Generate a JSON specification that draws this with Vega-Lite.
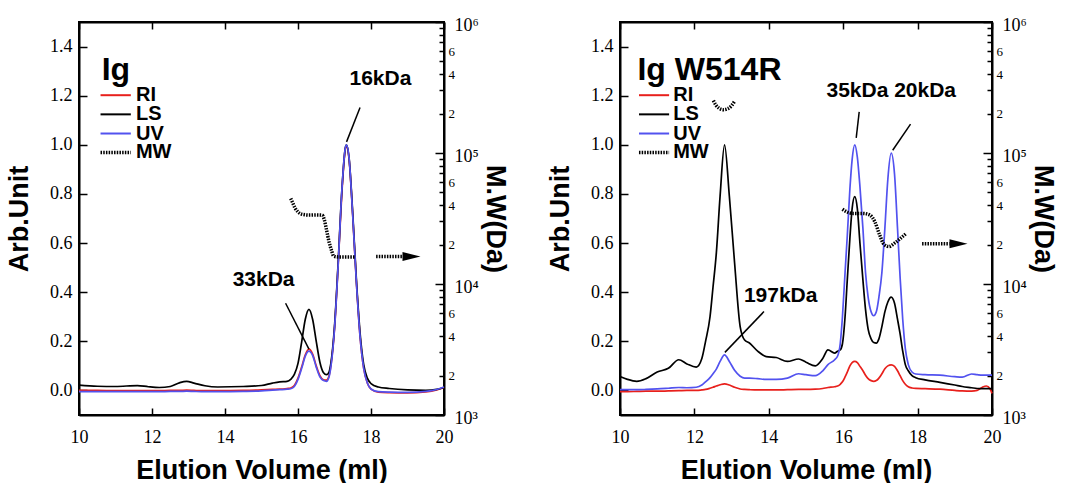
{
  "$schema": "https://vega.github.io/schema/vega-lite/v6.json",
  "background": "white",
  "padding": {"left": 4, "top": 15, "right": 2, "bottom": 5},
  "spacing": 35,
  "datasets": {
    "curvesL": [
      {"x": 10.0, "RI": 0.0, "LS": 0.022, "UV": -0.005},
      {"x": 10.5, "RI": 0.0, "LS": 0.017, "UV": -0.005},
      {"x": 11.0, "RI": -0.001, "LS": 0.016, "UV": -0.005},
      {"x": 11.6, "RI": -0.001, "LS": 0.02, "UV": -0.005},
      {"x": 11.9, "RI": -0.001, "LS": 0.015, "UV": -0.005},
      {"x": 12.2, "RI": -0.001, "LS": 0.012, "UV": -0.005},
      {"x": 12.5, "RI": 0.0, "LS": 0.016, "UV": -0.004},
      {"x": 12.75, "RI": 0.0, "LS": 0.031, "UV": -0.004},
      {"x": 12.95, "RI": 0.001, "LS": 0.037, "UV": -0.003},
      {"x": 13.15, "RI": 0.0, "LS": 0.03, "UV": -0.004},
      {"x": 13.45, "RI": -0.001, "LS": 0.019, "UV": -0.005},
      {"x": 13.8, "RI": -0.001, "LS": 0.014, "UV": -0.005},
      {"x": 14.5, "RI": 0.0, "LS": 0.016, "UV": -0.004},
      {"x": 15.0, "RI": 0.002, "LS": 0.02, "UV": -0.002},
      {"x": 15.3, "RI": 0.004, "LS": 0.03, "UV": 0.001},
      {"x": 15.5, "RI": 0.005, "LS": 0.035, "UV": 0.003},
      {"x": 15.7, "RI": 0.008, "LS": 0.037, "UV": 0.005},
      {"x": 15.8, "RI": 0.01, "LS": 0.045, "UV": 0.007},
      {"x": 15.9, "RI": 0.02, "LS": 0.065, "UV": 0.016},
      {"x": 16.0, "RI": 0.05, "LS": 0.11, "UV": 0.045},
      {"x": 16.1, "RI": 0.095, "LS": 0.197, "UV": 0.09},
      {"x": 16.2, "RI": 0.145, "LS": 0.29, "UV": 0.14},
      {"x": 16.3, "RI": 0.168, "LS": 0.33, "UV": 0.16},
      {"x": 16.4, "RI": 0.148, "LS": 0.29, "UV": 0.143},
      {"x": 16.5, "RI": 0.1, "LS": 0.2, "UV": 0.095},
      {"x": 16.6, "RI": 0.06, "LS": 0.115, "UV": 0.055},
      {"x": 16.7, "RI": 0.043, "LS": 0.072, "UV": 0.04},
      {"x": 16.78, "RI": 0.042, "LS": 0.064, "UV": 0.037},
      {"x": 16.85, "RI": 0.06, "LS": 0.075, "UV": 0.055},
      {"x": 16.9, "RI": 0.1, "LS": 0.11, "UV": 0.095},
      {"x": 17.0, "RI": 0.25, "LS": 0.26, "UV": 0.25},
      {"x": 17.1, "RI": 0.51, "LS": 0.52, "UV": 0.51},
      {"x": 17.2, "RI": 0.8, "LS": 0.81, "UV": 0.81},
      {"x": 17.3, "RI": 0.985, "LS": 0.99, "UV": 0.99},
      {"x": 17.33, "RI": 0.995, "LS": 1.0, "UV": 1.0},
      {"x": 17.4, "RI": 0.94, "LS": 0.945, "UV": 0.945},
      {"x": 17.5, "RI": 0.71, "LS": 0.72, "UV": 0.71},
      {"x": 17.6, "RI": 0.44, "LS": 0.45, "UV": 0.44},
      {"x": 17.7, "RI": 0.22, "LS": 0.235, "UV": 0.22},
      {"x": 17.8, "RI": 0.09, "LS": 0.105, "UV": 0.09},
      {"x": 17.9, "RI": 0.03, "LS": 0.05, "UV": 0.03},
      {"x": 18.0, "RI": 0.005, "LS": 0.028, "UV": 0.006},
      {"x": 18.2, "RI": -0.007, "LS": 0.014, "UV": -0.005},
      {"x": 18.5, "RI": -0.009, "LS": 0.008, "UV": -0.007},
      {"x": 19.0, "RI": -0.01, "LS": 0.002, "UV": -0.008},
      {"x": 19.5, "RI": -0.006, "LS": 0.0, "UV": -0.004},
      {"x": 19.8, "RI": 0.002, "LS": 0.004, "UV": 0.004},
      {"x": 20.0, "RI": 0.012, "LS": 0.012, "UV": 0.014}
    ],
    "curvesR": [
      {"x": 10.0, "RI": -0.005, "LS": 0.057, "UV": 0.003},
      {"x": 10.2, "RI": -0.005, "LS": 0.045, "UV": 0.003},
      {"x": 10.45, "RI": -0.004, "LS": 0.037, "UV": 0.003},
      {"x": 10.7, "RI": -0.003, "LS": 0.048, "UV": 0.004},
      {"x": 11.0, "RI": -0.003, "LS": 0.075, "UV": 0.006},
      {"x": 11.3, "RI": -0.002, "LS": 0.09, "UV": 0.009},
      {"x": 11.58, "RI": -0.001, "LS": 0.125, "UV": 0.012},
      {"x": 11.8, "RI": 0.0, "LS": 0.108, "UV": 0.011},
      {"x": 12.05, "RI": 0.0, "LS": 0.095, "UV": 0.013},
      {"x": 12.2, "RI": 0.002, "LS": 0.13, "UV": 0.022},
      {"x": 12.3, "RI": 0.004, "LS": 0.2, "UV": 0.035},
      {"x": 12.42, "RI": 0.009, "LS": 0.3, "UV": 0.052},
      {"x": 12.5, "RI": 0.013, "LS": 0.42, "UV": 0.068},
      {"x": 12.59, "RI": 0.018, "LS": 0.56, "UV": 0.087},
      {"x": 12.69, "RI": 0.023, "LS": 0.79, "UV": 0.118},
      {"x": 12.81, "RI": 0.027, "LS": 1.0, "UV": 0.145},
      {"x": 12.94, "RI": 0.022, "LS": 0.79, "UV": 0.118},
      {"x": 13.08, "RI": 0.013, "LS": 0.52, "UV": 0.082},
      {"x": 13.23, "RI": 0.006, "LS": 0.26, "UV": 0.058},
      {"x": 13.35, "RI": 0.004, "LS": 0.205, "UV": 0.05},
      {"x": 13.48, "RI": 0.003, "LS": 0.193, "UV": 0.05},
      {"x": 13.7, "RI": 0.002, "LS": 0.16, "UV": 0.048},
      {"x": 13.93, "RI": 0.002, "LS": 0.138, "UV": 0.045},
      {"x": 14.2, "RI": 0.002, "LS": 0.134, "UV": 0.045},
      {"x": 14.5, "RI": 0.003, "LS": 0.118, "UV": 0.05},
      {"x": 14.8, "RI": 0.004, "LS": 0.128, "UV": 0.068},
      {"x": 15.0, "RI": 0.004, "LS": 0.115, "UV": 0.064},
      {"x": 15.25, "RI": 0.005, "LS": 0.1, "UV": 0.06},
      {"x": 15.45, "RI": 0.008, "LS": 0.13, "UV": 0.08},
      {"x": 15.59, "RI": 0.012, "LS": 0.165, "UV": 0.105},
      {"x": 15.77, "RI": 0.015, "LS": 0.152, "UV": 0.125},
      {"x": 15.85, "RI": 0.018, "LS": 0.16, "UV": 0.14},
      {"x": 15.92, "RI": 0.025, "LS": 0.165, "UV": 0.19},
      {"x": 15.98, "RI": 0.035, "LS": 0.19, "UV": 0.3},
      {"x": 16.05, "RI": 0.055, "LS": 0.3, "UV": 0.48},
      {"x": 16.11, "RI": 0.075, "LS": 0.45, "UV": 0.63},
      {"x": 16.18, "RI": 0.1, "LS": 0.62, "UV": 0.82},
      {"x": 16.24, "RI": 0.113, "LS": 0.74, "UV": 0.94},
      {"x": 16.31, "RI": 0.118, "LS": 0.789, "UV": 1.0},
      {"x": 16.38, "RI": 0.113, "LS": 0.74, "UV": 0.95},
      {"x": 16.45, "RI": 0.098, "LS": 0.6, "UV": 0.83},
      {"x": 16.53, "RI": 0.08, "LS": 0.45, "UV": 0.66},
      {"x": 16.6, "RI": 0.062, "LS": 0.33, "UV": 0.48},
      {"x": 16.67, "RI": 0.048, "LS": 0.25, "UV": 0.38},
      {"x": 16.75, "RI": 0.04, "LS": 0.21, "UV": 0.32},
      {"x": 16.82, "RI": 0.037, "LS": 0.195, "UV": 0.304},
      {"x": 16.89, "RI": 0.04, "LS": 0.193, "UV": 0.32},
      {"x": 16.96, "RI": 0.05, "LS": 0.21, "UV": 0.38},
      {"x": 17.04, "RI": 0.068, "LS": 0.26, "UV": 0.48},
      {"x": 17.12, "RI": 0.088, "LS": 0.32, "UV": 0.66},
      {"x": 17.2, "RI": 0.1, "LS": 0.36, "UV": 0.86},
      {"x": 17.29, "RI": 0.104, "LS": 0.38, "UV": 0.966},
      {"x": 17.38, "RI": 0.098, "LS": 0.355, "UV": 0.88},
      {"x": 17.46, "RI": 0.08, "LS": 0.29, "UV": 0.66},
      {"x": 17.53, "RI": 0.06, "LS": 0.23, "UV": 0.46},
      {"x": 17.6, "RI": 0.04, "LS": 0.16, "UV": 0.29},
      {"x": 17.67, "RI": 0.025, "LS": 0.105, "UV": 0.17},
      {"x": 17.75, "RI": 0.015, "LS": 0.08, "UV": 0.105},
      {"x": 17.85, "RI": 0.01, "LS": 0.06, "UV": 0.075},
      {"x": 17.95, "RI": 0.008, "LS": 0.052, "UV": 0.067},
      {"x": 18.2, "RI": 0.007, "LS": 0.043, "UV": 0.064},
      {"x": 18.6, "RI": 0.005, "LS": 0.033, "UV": 0.062},
      {"x": 19.0, "RI": 0.0, "LS": 0.022, "UV": 0.056},
      {"x": 19.2, "RI": -0.002, "LS": 0.016, "UV": 0.054},
      {"x": 19.45, "RI": -0.003, "LS": 0.011, "UV": 0.067},
      {"x": 19.6, "RI": 0.0, "LS": 0.008, "UV": 0.064},
      {"x": 19.75, "RI": 0.014, "LS": 0.007, "UV": 0.062},
      {"x": 19.85, "RI": 0.018, "LS": 0.007, "UV": 0.062},
      {"x": 19.95, "RI": 0.006, "LS": 0.007, "UV": 0.062},
      {"x": 20.0, "RI": -0.012, "LS": 0.007, "UV": 0.062}
    ],
    "mwL": [
      {"x": 15.8, "mw": 45000, "seg": 1},
      {"x": 15.85, "mw": 42000, "seg": 1},
      {"x": 15.92, "mw": 38000, "seg": 1},
      {"x": 16.0, "mw": 35500, "seg": 1},
      {"x": 16.12, "mw": 34000, "seg": 1},
      {"x": 16.3, "mw": 33600, "seg": 1},
      {"x": 16.5, "mw": 33700, "seg": 1},
      {"x": 16.66, "mw": 33600, "seg": 1},
      {"x": 16.72, "mw": 31000, "seg": 1},
      {"x": 16.78, "mw": 26000, "seg": 1},
      {"x": 16.85, "mw": 21000, "seg": 1},
      {"x": 16.92, "mw": 18000, "seg": 1},
      {"x": 16.98, "mw": 16300, "seg": 1},
      {"x": 17.1, "mw": 16100, "seg": 1},
      {"x": 17.3, "mw": 16100, "seg": 1},
      {"x": 17.56, "mw": 16100, "seg": 1}
    ],
    "mwR": [
      {"x": 12.51, "mw": 252000, "seg": 1},
      {"x": 12.58, "mw": 232000, "seg": 1},
      {"x": 12.66, "mw": 220000, "seg": 1},
      {"x": 12.78, "mw": 214000, "seg": 1},
      {"x": 12.9, "mw": 218000, "seg": 1},
      {"x": 13.0, "mw": 230000, "seg": 1},
      {"x": 13.08, "mw": 248000, "seg": 1},
      {"x": 15.98, "mw": 37200, "seg": 2},
      {"x": 16.09, "mw": 35600, "seg": 2},
      {"x": 16.27, "mw": 34600, "seg": 2},
      {"x": 16.53, "mw": 34600, "seg": 2},
      {"x": 16.71, "mw": 33700, "seg": 2},
      {"x": 16.85, "mw": 29900, "seg": 2},
      {"x": 16.98, "mw": 23700, "seg": 2},
      {"x": 17.09, "mw": 20200, "seg": 2},
      {"x": 17.23, "mw": 19300, "seg": 2},
      {"x": 17.38, "mw": 20500, "seg": 2},
      {"x": 17.54, "mw": 22300, "seg": 2},
      {"x": 17.7, "mw": 24400, "seg": 2}
    ]
  },
  "hconcat": [
    {
      "width": 365,
      "height": 393,
      "layer": [
        {
          "encoding": {
            "x": {"field": "x", "type": "quantitative", "scale": {"domain": [10, 20], "nice": false, "zero": false},
              "axis": {"values": [10, 12, 14, 16, 18, 20], "format": "d", "tickSize": -7, "labelPadding": 20, "labelFlush": false, "title": "Elution Volume (ml)", "titlePadding": 11}},
            "y": {"field": "y", "type": "quantitative", "scale": {"domain": [-0.1, 1.5], "nice": false, "zero": false},
              "axis": {"values": [0, 0.2, 0.4, 0.6, 0.8, 1.0, 1.2, 1.4], "format": ".1f", "tickSize": -8, "labelPadding": 15, "title": "Arb.Unit", "titlePadding": 16}}
          },
          "layer": [
            {
              "data": {"name": "curvesL"},
              "transform": [{"fold": ["RI", "LS", "UV"], "as": ["s", "y"]}],
              "mark": {"type": "line", "interpolate": "monotone", "strokeWidth": 1.7},
              "encoding": {"color": {"field": "s", "type": "nominal", "scale": {"domain": ["RI", "LS", "UV"], "range": ["#e8201c", "#000000", "#5252ef"]}, "legend": null}}
            },
            {
              "data": {"values": [
                {"s": "RI", "x": 10.59, "x2": 11.42, "y": 1.202},
                {"s": "LS", "x": 10.59, "x2": 11.42, "y": 1.124},
                {"s": "UV", "x": 10.59, "x2": 11.42, "y": 1.046}
              ]},
              "mark": {"type": "rule", "strokeWidth": 2},
              "encoding": {"x2": {"field": "x2"}, "color": {"field": "s", "type": "nominal", "legend": null}}
            },
            {
              "data": {"values": [{"x": 10.59, "x2": 11.42, "y": 0.969}, {"x": 18.14, "x2": 18.87, "y": 0.545}]},
              "mark": {"type": "rule", "strokeWidth": 3.5, "strokeDash": [1.5, 1.2], "color": "black"},
              "encoding": {"x2": {"field": "x2"}}
            },
            {
              "data": {"values": [{"x": 19.11, "y": 0.545}]},
              "mark": {"type": "point", "shape": "M-1,-0.5L1,0L-1,0.5Z", "size": 324, "filled": true, "color": "black", "opacity": 1}
            },
            {
              "data": {"values": [{"x": 17.7, "y": 1.152, "x2": 17.33, "y2": 1.012}, {"x": 15.66, "y": 0.355, "x2": 16.3, "y2": 0.168}]},
              "mark": {"type": "rule", "strokeWidth": 1.5, "color": "black"},
              "encoding": {"x2": {"field": "x2"}, "y2": {"field": "y2"}}
            },
            {
              "data": {"values": [{"t": "RI", "x": 11.56, "y": 1.202}, {"t": "LS", "x": 11.56, "y": 1.124}, {"t": "UV", "x": 11.56, "y": 1.046}, {"t": "MW", "x": 11.56, "y": 0.969}]},
              "mark": {"type": "text", "align": "left", "baseline": "middle", "font": "Liberation Sans", "fontWeight": "bold", "fontSize": 20, "color": "black"},
              "encoding": {"text": {"field": "t"}}
            },
            {
              "data": {"values": [{"t": "16kDa", "x": 17.41, "y": 1.243}, {"t": "33kDa", "x": 14.21, "y": 0.426}]},
              "mark": {"type": "text", "align": "left", "baseline": "alphabetic", "font": "Liberation Sans", "fontWeight": "bold", "fontSize": 21, "color": "black"},
              "encoding": {"text": {"field": "t"}}
            },
            {
              "data": {"values": [{"t": "Ig", "x": 10.62, "y": 1.265}]},
              "mark": {"type": "text", "align": "left", "baseline": "alphabetic", "font": "Liberation Sans", "fontWeight": "bold", "fontSize": 32, "color": "black"},
              "encoding": {"text": {"field": "t"}}
            }
          ]
        },
        {
          "data": {"name": "mwL"},
          "mark": {"type": "line", "strokeWidth": 3.5, "strokeDash": [1.5, 1.2], "color": "black", "interpolate": "monotone"},
          "encoding": {
            "x": {"field": "x", "type": "quantitative", "scale": {"domain": [10, 20], "nice": false, "zero": false},
              "axis": {"orient": "top", "values": [10, 12, 14, 16, 18, 20], "tickSize": -7, "labels": false, "title": null}},
            "y": {"field": "mw", "type": "quantitative", "scale": {"type": "log", "domain": [1000, 1000000], "nice": false},
              "axis": {"orient": "right", "values": [1000, 2000, 3000, 4000, 5000, 6000, 7000, 8000, 9000, 10000, 20000, 30000, 40000, 50000, 60000, 70000, 80000, 90000, 100000, 200000, 300000, 400000, 500000, 600000, 700000, 800000, 900000, 1000000],
                "labelExpr": "datum.value==1000?'10³':datum.value==10000?'10⁴':datum.value==100000?'10⁵':datum.value==1000000?'10⁶':(datum.value==2000||datum.value==20000||datum.value==200000)?'2':(datum.value==4000||datum.value==40000||datum.value==400000)?'4':(datum.value==6000||datum.value==60000||datum.value==600000)?'6':''",
                "labelOverlap": false,
                "tickSize": {"condition": {"test": "datum.value==1000||datum.value==10000||datum.value==100000||datum.value==1000000", "value": -9}, "value": -5},
                "labelFontSize": {"condition": {"test": "datum.value==1000||datum.value==10000||datum.value==100000||datum.value==1000000", "value": 18}, "value": 13},
                "labelPadding": {"condition": {"test": "datum.value==1000||datum.value==10000||datum.value==100000||datum.value==1000000", "value": 19}, "value": 9},
                "labelOffset": {"condition": {"test": "datum.value==1000||datum.value==10000||datum.value==100000||datum.value==1000000", "value": 3}, "value": 0},
                "title": "M.W(Da)", "titlePadding": 2}},
            "detail": {"field": "seg"}
          }
        }
      ],
      "resolve": {"scale": {"y": "independent"}, "axis": {"x": "independent"}}
    },
    {
      "width": 372,
      "height": 393,
      "layer": [
        {
          "encoding": {
            "x": {"field": "x", "type": "quantitative", "scale": {"domain": [10, 20], "nice": false, "zero": false},
              "axis": {"values": [10, 12, 14, 16, 18, 20], "format": "d", "tickSize": -7, "labelPadding": 20, "labelFlush": false, "title": "Elution Volume (ml)", "titlePadding": 11}},
            "y": {"field": "y", "type": "quantitative", "scale": {"domain": [-0.1, 1.5], "nice": false, "zero": false},
              "axis": {"values": [0, 0.2, 0.4, 0.6, 0.8, 1.0, 1.2, 1.4], "format": ".1f", "tickSize": -8, "labelPadding": 15, "title": "Arb.Unit", "titlePadding": 16}}
          },
          "layer": [
            {
              "data": {"name": "curvesR"},
              "transform": [{"fold": ["RI", "LS", "UV"], "as": ["s", "y"]}],
              "mark": {"type": "line", "interpolate": "monotone", "strokeWidth": 1.7},
              "encoding": {"color": {"field": "s", "type": "nominal", "scale": {"domain": ["RI", "LS", "UV"], "range": ["#e8201c", "#000000", "#5252ef"]}, "legend": null}}
            },
            {
              "data": {"values": [
                {"s": "RI", "x": 10.51, "x2": 11.32, "y": 1.202},
                {"s": "LS", "x": 10.51, "x2": 11.32, "y": 1.124},
                {"s": "UV", "x": 10.51, "x2": 11.32, "y": 1.046}
              ]},
              "mark": {"type": "rule", "strokeWidth": 2},
              "encoding": {"x2": {"field": "x2"}, "color": {"field": "s", "type": "nominal", "legend": null}}
            },
            {
              "data": {"values": [{"x": 10.51, "x2": 11.32, "y": 0.969}, {"x": 18.12, "x2": 18.86, "y": 0.597}]},
              "mark": {"type": "rule", "strokeWidth": 3.5, "strokeDash": [1.5, 1.2], "color": "black"},
              "encoding": {"x2": {"field": "x2"}}
            },
            {
              "data": {"values": [{"x": 19.1, "y": 0.597}]},
              "mark": {"type": "point", "shape": "M-1,-0.5L1,0L-1,0.5Z", "size": 324, "filled": true, "color": "black", "opacity": 1}
            },
            {
              "data": {"values": [{"x": 16.43, "y": 1.134, "x2": 16.35, "y2": 1.028}, {"x": 17.81, "y": 1.084, "x2": 17.33, "y2": 0.978}, {"x": 13.87, "y": 0.321, "x2": 12.82, "y2": 0.155}]},
              "mark": {"type": "rule", "strokeWidth": 1.5, "color": "black"},
              "encoding": {"x2": {"field": "x2"}, "y2": {"field": "y2"}}
            },
            {
              "data": {"values": [{"t": "RI", "x": 11.43, "y": 1.202}, {"t": "LS", "x": 11.43, "y": 1.124}, {"t": "UV", "x": 11.43, "y": 1.046}, {"t": "MW", "x": 11.43, "y": 0.969}]},
              "mark": {"type": "text", "align": "left", "baseline": "middle", "font": "Liberation Sans", "fontWeight": "bold", "fontSize": 20, "color": "black"},
              "encoding": {"text": {"field": "t"}}
            },
            {
              "data": {"values": [{"t": "35kDa", "x": 15.55, "y": 1.194}, {"t": "20kDa", "x": 17.37, "y": 1.194}, {"t": "197kDa", "x": 13.33, "y": 0.362}]},
              "mark": {"type": "text", "align": "left", "baseline": "alphabetic", "font": "Liberation Sans", "fontWeight": "bold", "fontSize": 21, "color": "black"},
              "encoding": {"text": {"field": "t"}}
            },
            {
              "data": {"values": [{"t": "Ig W514R", "x": 10.47, "y": 1.265}]},
              "mark": {"type": "text", "align": "left", "baseline": "alphabetic", "font": "Liberation Sans", "fontWeight": "bold", "fontSize": 32, "color": "black"},
              "encoding": {"text": {"field": "t"}}
            }
          ]
        },
        {
          "data": {"name": "mwR"},
          "mark": {"type": "line", "strokeWidth": 3.5, "strokeDash": [1.5, 1.2], "color": "black", "interpolate": "monotone"},
          "encoding": {
            "x": {"field": "x", "type": "quantitative", "scale": {"domain": [10, 20], "nice": false, "zero": false},
              "axis": {"orient": "top", "values": [10, 12, 14, 16, 18, 20], "tickSize": -7, "labels": false, "title": null}},
            "y": {"field": "mw", "type": "quantitative", "scale": {"type": "log", "domain": [1000, 1000000], "nice": false},
              "axis": {"orient": "right", "values": [1000, 2000, 3000, 4000, 5000, 6000, 7000, 8000, 9000, 10000, 20000, 30000, 40000, 50000, 60000, 70000, 80000, 90000, 100000, 200000, 300000, 400000, 500000, 600000, 700000, 800000, 900000, 1000000],
                "labelExpr": "datum.value==1000?'10³':datum.value==10000?'10⁴':datum.value==100000?'10⁵':datum.value==1000000?'10⁶':(datum.value==2000||datum.value==20000||datum.value==200000)?'2':(datum.value==4000||datum.value==40000||datum.value==400000)?'4':(datum.value==6000||datum.value==60000||datum.value==600000)?'6':''",
                "labelOverlap": false,
                "tickSize": {"condition": {"test": "datum.value==1000||datum.value==10000||datum.value==100000||datum.value==1000000", "value": -9}, "value": -5},
                "labelFontSize": {"condition": {"test": "datum.value==1000||datum.value==10000||datum.value==100000||datum.value==1000000", "value": 18}, "value": 13},
                "labelPadding": {"condition": {"test": "datum.value==1000||datum.value==10000||datum.value==100000||datum.value==1000000", "value": 19}, "value": 9},
                "labelOffset": {"condition": {"test": "datum.value==1000||datum.value==10000||datum.value==100000||datum.value==1000000", "value": 3}, "value": 0},
                "title": "M.W(Da)", "titlePadding": 2}},
            "detail": {"field": "seg"}
          }
        }
      ],
      "resolve": {"scale": {"y": "independent"}, "axis": {"x": "independent"}}
    }
  ],
  "config": {
    "view": {"stroke": "black", "strokeWidth": 2},
    "font": "Liberation Sans",
    "axis": {
      "labelFont": "Liberation Serif", "labelFontSize": 18, "labelColor": "black",
      "titleFont": "Liberation Sans", "titleFontWeight": "bold", "titleFontSize": 27, "titleColor": "black",
      "tickColor": "black", "tickWidth": 1.5, "domainColor": "black", "domainWidth": 2, "grid": false
    }
  }
}
